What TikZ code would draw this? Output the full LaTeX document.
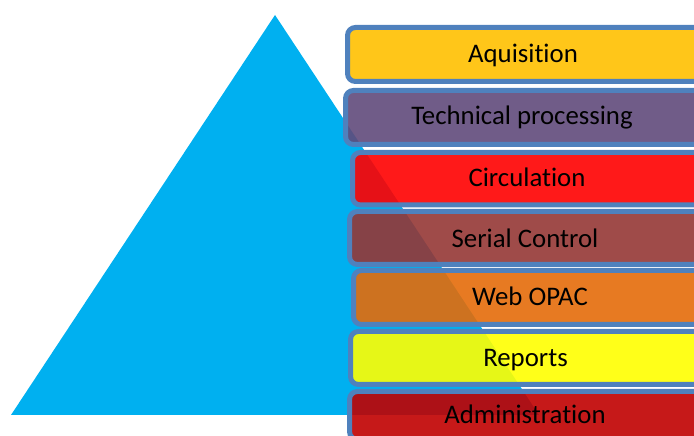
\documentclass[tikz,border=0pt]{standalone}
\usepackage{fontspec}
\setmainfont{Carlito}[RawFeature={-liga;-dlig}]
\definecolor{tri}{HTML}{00B0F0}
\definecolor{edge}{HTML}{4F81BD}
\definecolor{cacq}{HTML}{FFC000}
\definecolor{ctech}{HTML}{604A7B}
\definecolor{ccirc}{HTML}{FF0000}
\definecolor{cser}{HTML}{953735}
\definecolor{cweb}{HTML}{E46C0A}
\definecolor{crep}{HTML}{FFFF00}
\definecolor{cadm}{HTML}{C00000}
\begin{document}
\begin{tikzpicture}[x=1pt,y=1pt,
  layer/.style={draw=edge, line width=5pt, rounded corners=8pt, fill opacity=0.9,
    draw opacity=1, inner sep=0pt, anchor=west, minimum width=420pt},
  lab/.style={inner sep=0pt, anchor=base, font=\fontsize{26.8}{30}\selectfont}]
\useasboundingbox (0,0) rectangle (694,436);
\clip (0,0) rectangle (694,436);
\coordinate (apex) at (275,421);
\coordinate (bl) at (11,21);
\coordinate (br) at (539,21);
\fill[tri] (apex) -- (bl) -- (br) -- cycle;
\node[layer, fill=cacq, minimum height=54pt] (acq) at (345,381.5) {};
\node[layer, fill=ctech, minimum height=54pt] (tech) at (343,318.5) {};
\node[layer, fill=ccirc, minimum height=52.5pt] (circ) at (350,257.25) {};
\node[layer, fill=cser, minimum height=53pt] (ser) at (347,198) {};
\node[layer, fill=cweb, minimum height=54pt] (web) at (351,138.5) {};
\node[layer, fill=crep, minimum height=53pt] (rep) at (348,78) {};
\node[layer, fill=cadm, minimum height=48pt] (adm) at (347,20.5) {};
\node[lab] (tacq) at (523,373.3) {Aquisition};
\node[lab] (ttech) at (522,311) {Technical processing};
\node[lab] (tcirc) at (527,249.3) {Circulation};
\node[lab] (tser) at (525,188.7) {Serial Control};
\node[lab] (tweb) at (530,130.3) {Web OPAC};
\node[lab] (trep) at (525.5,69.3) {Reports};
\node[lab] (tadm) at (525,12.7) {Administration};
\end{tikzpicture}
\end{document}
